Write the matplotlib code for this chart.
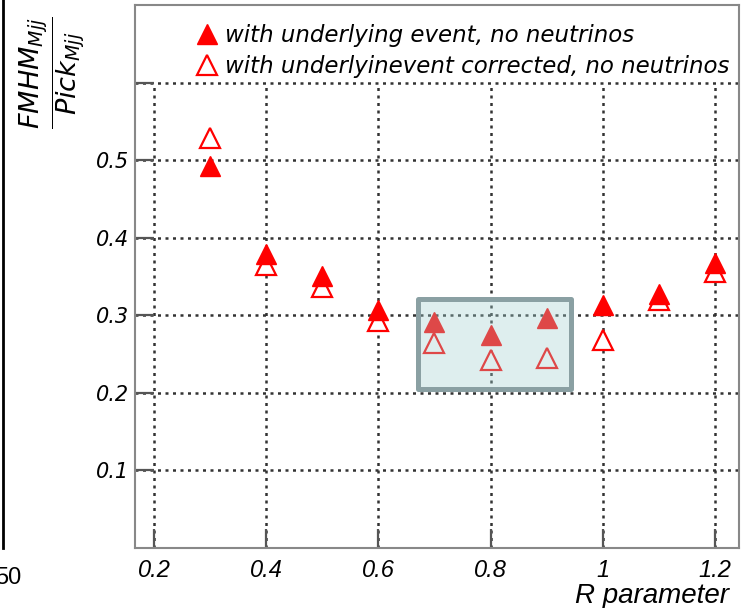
import matplotlib
matplotlib.use('Agg')
import matplotlib.pyplot as plt
from matplotlib.patches import Rectangle
from matplotlib.lines import Line2D

# data
r_values = [0.3, 0.4, 0.5, 0.6, 0.7, 0.8, 0.9, 1.0, 1.1, 1.2]
ue_filled = [0.492, 0.379, 0.351, 0.307, 0.291, 0.274, 0.297, 0.313, 0.328, 0.368]
ue_corrected = [0.528, 0.365, 0.337, 0.292, 0.264, 0.243, 0.245, 0.268, 0.320, 0.356]
xticks = [0.2, 0.4, 0.6, 0.8, 1.0, 1.2]
xtick_labels = ['0.2', '0.4', '0.6', '0.8', '1', '1.2']
yticks = [0.1, 0.2, 0.3, 0.4, 0.5, 0.6]
ytick_labels = ['0.1', '0.2', '0.3', '0.4', '0.5', '']
label_filled = 'with underlying event, no neutrinos'
label_open = 'with underlyinevent corrected, no neutrinos'
highlight_x = (0.671, 0.943)
highlight_y = (0.205, 0.321)

fig = plt.figure(figsize=(7.42, 6.08), dpi=100)
ax = fig.add_axes([135/742, 60/608, 604/742, 543/608])
ax.set_xlim(0.166, 1.243)
ax.set_ylim(0, 0.70)

# dotted grid, vertical lines stop under the legend strip
ax.vlines(xticks, 0, 0.6, colors='#333333', linestyles=(0, (1.2, 1.8)), lw=1.8, zorder=1)
ax.hlines(yticks, 0.166, 1.243, colors='#333333', linestyles=(0, (1.2, 1.8)), lw=1.8, zorder=1)

ax.plot(r_values, ue_corrected, ls='none', marker='^', ms=14, mfc='white',
        mec='red', mew=1.6, zorder=3, label=label_open)
ax.plot(r_values, ue_filled, ls='none', marker='^', ms=15, mfc='red',
        mec='red', zorder=4, label=label_filled)

box = Rectangle((highlight_x[0], highlight_y[0]), highlight_x[1] - highlight_x[0],
                highlight_y[1] - highlight_y[0], facecolor=(0.63, 0.82, 0.82, 0.35),
                edgecolor='#8aa0a3', lw=3.6, joinstyle='round', zorder=5)
ax.add_patch(box)

for s in ax.spines.values():
    s.set_color('#888888')
    s.set_linewidth(1.5)

ax.set_xticks(xticks)
ax.set_xticklabels(xtick_labels, family=['Liberation Sans'], style='italic', fontsize=17)
ax.set_yticks(yticks)
ax.set_yticklabels(ytick_labels, family=['DejaVu Sans'], style='italic', fontsize=15)
ax.tick_params(axis='both', direction='in', length=14, width=1.6, color='#555555')
ax.tick_params(axis='x', pad=8)
ax.tick_params(axis='y', pad=4)
ax.tick_params(top=False, right=False)

h, l = ax.get_legend_handles_labels()
leg = ax.legend(h[::-1], l[::-1], loc='upper left', bbox_to_anchor=(0.08, 0.99),
                frameon=False, prop={'family': 'DejaVu Sans', 'style': 'italic', 'size': 16.5},
                handlelength=0.9, handletextpad=0.3, labelspacing=0.35, borderaxespad=0.2)

fig.text(575/742, 1 - 596/608, 'R parameter', family=['Liberation Sans Narrow', 'Liberation Sans'],
         style='italic', fontsize=20, ha='left', va='center')
fig.text(52/742, 1 - 73/608, r'$\dfrac{FMHM_{Mjj}}{Pick_{Mjj}}$', rotation=90,
         fontsize=19.5, ha='center', va='center')

# edge of the neighbouring panel
fig.add_artist(Line2D([3/742, 3/742], [1.0, 60/608], color='black', lw=2))
fig.text(-5/742, 1 - 578/608, '50', family=['Liberation Sans Narrow', 'Liberation Sans'],
         fontsize=17, ha='left', va='center')

fig.savefig('out.png', dpi=100)
